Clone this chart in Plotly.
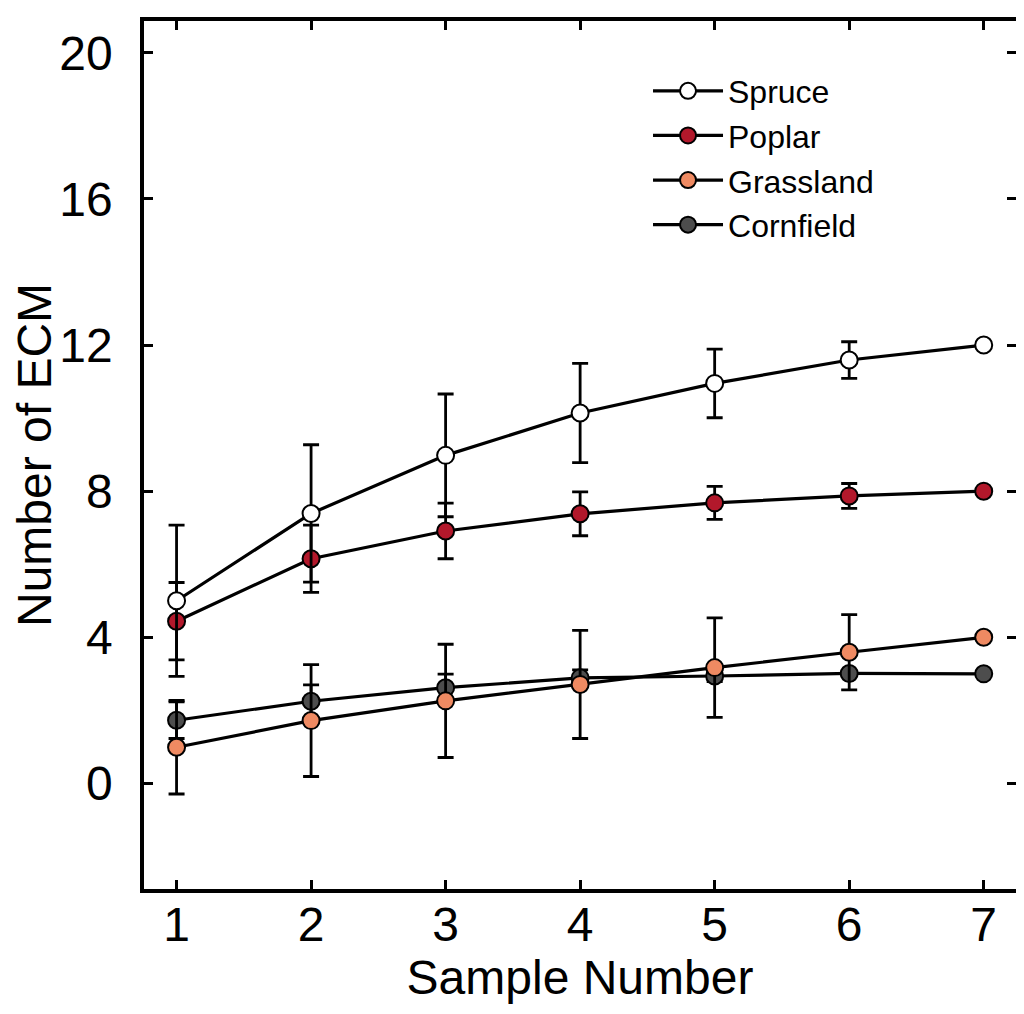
import plotly.graph_objects as go

samples = [1, 2, 3, 4, 5, 6, 7]

spruce = [5.0, 7.39, 8.98, 10.14, 10.95, 11.59, 12.0]
spruce_err = [2.07, 1.88, 1.68, 1.36, 0.94, 0.50, 0.0]

poplar = [4.44, 6.15, 6.91, 7.38, 7.68, 7.87, 8.0]
poplar_err = [1.06, 0.92, 0.76, 0.60, 0.45, 0.34, 0.0]

grassland = [0.99, 1.72, 2.26, 2.71, 3.17, 3.59, 4.0]
grassland_err = [1.28, 1.53, 1.55, 1.48, 1.36, 1.03, 0.0]

cornfield = [1.73, 2.25, 2.62, 2.89, 2.94, 3.01, 3.0]
cornfield_err = [0.50, 0.45, 0.37, 0.22, 0.15, 0.05, 0.0]

y_ticks = [0, 4, 8, 12, 16, 20]

series = [
    ("Cornfield", cornfield, cornfield_err, "#4d4d4d", 4),
    ("Grassland", grassland, grassland_err, "#ef8a62", 3),
    ("Poplar", poplar, poplar_err, "#b2182b", 2),
    ("Spruce", spruce, spruce_err, "#ffffff", 1),
]

FONT = "Liberation Sans, Arial, Helvetica, sans-serif"

fig = go.Figure()
for name, vals, err, color, rank in series:
    fig.add_trace(go.Scatter(
        x=samples, y=vals, name=name, mode="lines+markers",
        legendrank=rank,
        line=dict(color="black", width=3.2),
        marker=dict(size=17, color=color, line=dict(color="black", width=2)),
        error_y=dict(type="data", array=err, visible=True,
                     color="black", thickness=2.8, width=8),
    ))

fig.update_layout(
    width=1024, height=1014,
    margin=dict(l=136, r=16, t=9, b=133),
    plot_bgcolor="white", paper_bgcolor="white",
    font=dict(family=FONT, color="black"),
    showlegend=True,
    legend=dict(
        x=0.578, y=0.951, xanchor="left", yanchor="top",
        font=dict(size=32, family=FONT),
        bgcolor="rgba(0,0,0,0)", borderwidth=0,
        tracegroupgap=0, itemwidth=70,
    ),
)

fig.update_xaxes(
    range=[0.758, 7.24], tickvals=samples,
    ticks="inside", ticklen=9, tickwidth=2.5, tickcolor="black",
    showline=True, linecolor="black", linewidth=3.5, mirror="ticks",
    showgrid=False, zeroline=False,
    tickfont=dict(size=48, family=FONT), ticklabelstandoff=-9,
    title=dict(text="Sample Number", font=dict(size=48, family=FONT), standoff=10),
)
fig.update_yaxes(
    range=[-2.89, 20.87], tickvals=y_ticks,
    ticks="inside", ticklen=9, tickwidth=2.5, tickcolor="black",
    showline=True, linecolor="black", linewidth=3.5, mirror="ticks",
    showgrid=False, zeroline=False,
    tickfont=dict(size=48, family=FONT), ticklabelstandoff=18,
    title=dict(text="Number of ECM", font=dict(size=48, family=FONT), standoff=4),
)

fig.write_html("out.html")
